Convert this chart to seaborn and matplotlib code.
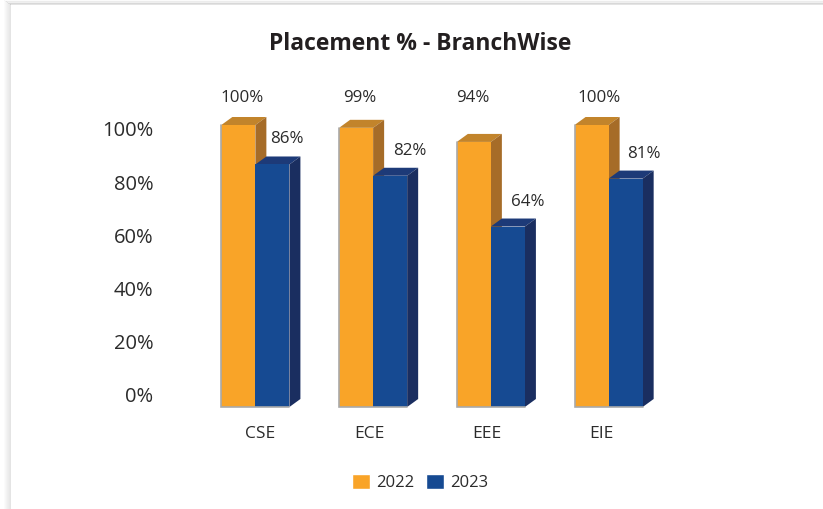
import numpy as np
import pandas as pd
import seaborn as sns
from matplotlib import pyplot as plt
from matplotlib.patches import Polygon, Rectangle
from matplotlib.transforms import ScaledTranslation

branches = ['CSE', 'ECE', 'EEE', 'EIE']
years = ['2022', '2023']
placed_2022 = [100, 99, 94, 100]
placed_2023 = [86, 82, 64, 81]
y_ticks = [0, 20, 40, 60, 80, 100]

# colours: front, top, side
orange = ['#F9A428', '#C2842B', '#A66C28']
blue = ['#164A92', '#1D3A78', '#1A2E60']

W, H = 823, 509
sns.set_theme(style='white')
plt.rcParams['font.family'] = ['Open Sans', 'DejaVu Sans']
txt = '#2b2b2b'

fig = plt.figure(figsize=(W / 100, H / 100), dpi=100, facecolor='white')


def fig_rect(x0, y0, x1, y1, color, alpha=1.0):
    # pixel box, y measured from the top
    fig.add_artist(Rectangle((x0 / W, 1 - y1 / H), (x1 - x0) / W, (y1 - y0) / H,
                             transform=fig.transFigure, facecolor=color,
                             edgecolor='none', alpha=alpha, zorder=-5))


# card shadow
for i in range(7):
    a = 0.03 + 0.03 * i
    fig_rect(4 + i, i * 0.7, 5 + i, H, '#808080', a)
    fig_rect(4 + i, i * 0.7, W, i * 0.7 + 0.8, '#808080', a)
fig_rect(11, 5, W, H, 'white')

# bars axes, pixel box 196..667 x 100..407
ax = fig.add_axes([196.5 / W, 1 - 407 / H, (667 - 196) / W, 307 / H])
ax.patch.set_alpha(0)
df = pd.DataFrame({'branch': branches, '2022': placed_2022, '2023': placed_2023})
long_df = df.melt(id_vars='branch', var_name='year', value_name='placed')
sns.barplot(data=long_df, x='branch', y='placed', hue='year', hue_order=years,
            palette=[orange[0], blue[0]], width=0.578, gap=0, saturation=1,
            edgecolor='none', linewidth=0, ax=ax, legend=False, zorder=3)
ax.set_xlim(-0.5, 3.5)
ax.set_ylim(0, 307 / 2.82)
ax.set_xlabel('')
ax.set_ylabel('')
sns.despine(ax=ax, left=True, bottom=True)
ax.set_yticks([])

# 3d faces on top of the library's bars
dx = 11 / (ax.transData.transform((1, 0))[0] - ax.transData.transform((0, 0))[0])
dy = 8 / 2.82
for cont, cols, z in zip(ax.containers, [orange, blue], [2, 4]):
    for bar in cont:
        x0 = bar.get_x()
        x1 = x0 + bar.get_width()
        h = bar.get_height()
        bar.set_zorder(z + 1)
        ax.add_patch(Polygon([(x0, h), (x1, h), (x1 + dx, h + dy), (x0 + dx, h + dy)],
                             facecolor=cols[1], edgecolor='none', zorder=z, clip_on=False))
        ax.add_patch(Polygon([(x1, 0), (x1 + dx, dy), (x1 + dx, h + dy), (x1, h)],
                             facecolor=cols[2], edgecolor='none', zorder=z, clip_on=False))

# soft grey outline, left and base only
for b22, b23 in zip(ax.containers[0], ax.containers[1]):
    x0 = b22.get_x()
    x1 = b23.get_x() + b23.get_width()
    ax.plot([x0, x0, x1], [b22.get_height(), 0, 0], color='#a9a9a9', lw=1.2, zorder=8,
            clip_on=False, solid_joinstyle='miter')

# value labels
for bar, v, off in zip(ax.containers[0], placed_2022, [4, 4, -1, 7]):
    ax.annotate(f'{v}%', (bar.get_x() + bar.get_width() / 2, 0), xytext=(off * 0.72, 309 * 0.72),
                textcoords='offset points', ha='center', va='center', fontsize=12.2, color=txt)
for bar, v, off in zip(ax.containers[1], placed_2023, [14, 20, 20, 18]):
    ax.annotate(f'{v}%', (bar.get_x() + bar.get_width() / 2, v), xytext=(off * 0.72, 25 * 0.72),
                textcoords='offset points', ha='center', va='center', fontsize=12.2, color=txt)

# category labels sit under the bars, a little off centre
ax.tick_params(axis='x', length=0, pad=14, labelsize=12.5, labelcolor=txt)
for lab, off in zip(ax.get_xticklabels(), [5, -4, -4, -7]):
    lab.set_transform(lab.get_transform() + ScaledTranslation(off / 100, 0, fig.dpi_scale_trans))

# percent scale is drawn on its own, tighter scale than the bars
ax2 = ax.twinx()
ax2.patch.set_alpha(0)
ax2.set_ylim(-12 / 2.66, 295 / 2.66)
ax2.set_yticks(y_ticks)
ax2.set_yticklabels([f'{t}%' for t in y_ticks])
ax2.yaxis.tick_left()
ax2.tick_params(axis='y', length=0, pad=31, labelsize=14.5, labelcolor=txt)
ax2.grid(False)
sns.despine(ax=ax2, left=True, bottom=True, right=True)

fig.text(420.5 / W, 1 - 44 / H, 'Placement % - BranchWise', ha='center', va='center',
         fontsize=16.5, fontweight='bold', color='#231f20')

handles = [Rectangle((0, 0), 1, 1, facecolor=orange[0]), Rectangle((0, 0), 1, 1, facecolor=blue[0])]
fig.legend(handles, years, loc='center', bbox_to_anchor=(420.5 / W, 1 - 482.5 / H), ncol=2,
           frameon=False, fontsize=12, labelcolor=txt, handlelength=1.05, handleheight=1.05,
           handletextpad=0.4, columnspacing=0.7)

fig.savefig('out.png', dpi=100)
